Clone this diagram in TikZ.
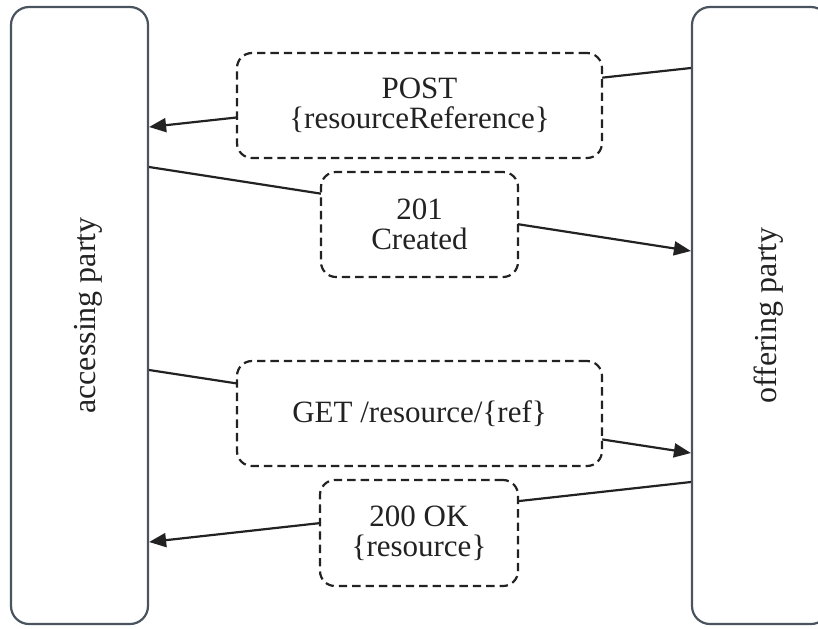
\documentclass[tikz,border=0pt]{standalone}
\usepackage{fontspec}
\setmainfont{Liberation Serif}
\usetikzlibrary{arrows.meta}
\definecolor{partygray}{RGB}{74,84,94}
\definecolor{inkblack}{RGB}{34,34,34}

\begin{document}
\begin{tikzpicture}[x=0.5pt, y=-0.5pt,
    party/.style={draw=partygray, line width=1.1pt, rounded corners=9pt, minimum width=68.5pt, minimum height=308.5pt},
    partylabel/.style={rotate=90, text=inkblack, font=\fontsize{16}{16}\selectfont},
    msgbox/.style={draw=inkblack, fill=white, line width=1.1pt, dash pattern=on 4.2pt off 2.5pt, rounded corners=7.5pt, align=center, inner sep=0pt, text=inkblack, font=\fontsize{15.5}{15}\selectfont},
    msg/.style={draw=inkblack, line width=1.1pt, -{Triangle[length=8.5pt,width=7pt]}}]
  \useasboundingbox (0,0) rectangle (818,628);

  \node[party] (accessing) at (79.5,315.5) {};
  \node[party] (offering) at (760.5,315.5) {};
  \node[partylabel] (accessingtext) at ([xshift=4.25pt]accessing.center) {accessing party};
  \node[partylabel] (offeringtext) at ([xshift=4.25pt]offering.center) {offering party};

  \draw[msg] (offering.west |- 0,68) -- (accessing.east |- 0,127);
  \draw[msg] (accessing.east |- 0,167) -- (offering.west |- 0,251);
  \draw[msg] (accessing.east |- 0,370) -- (offering.west |- 0,453);
  \draw[msg] (offering.west |- 0,482) -- (accessing.east |- 0,542);

  \node[msgbox, minimum width=182.5pt, minimum height=52.5pt] (post) at (419.5,105.5) {POST\\\{resourceReference\}};
  \node[msgbox, minimum width=98.5pt, minimum height=52.5pt] (created) at (419.5,224.5) {201\\Created};
  \node[msgbox, minimum width=182.5pt, minimum height=52.5pt] (get) at (419.5,413.5) {GET /resource/\{ref\}};
  \node[msgbox, minimum width=99pt, minimum height=53pt] (ok) at (419,533) {200 OK\\\{resource\}};
\end{tikzpicture}
\end{document}
